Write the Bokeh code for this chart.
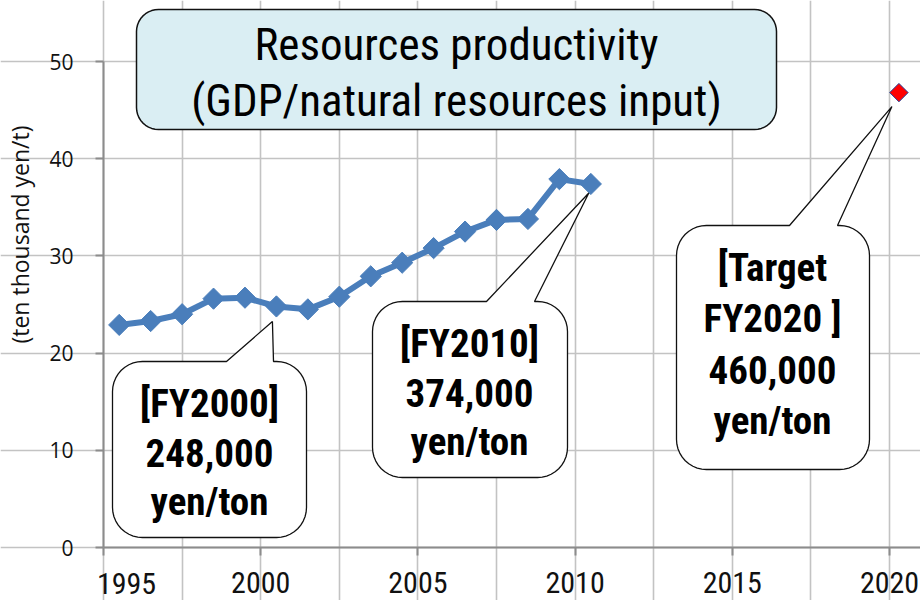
import math
from bokeh.plotting import figure
from bokeh.models import Range1d, FixedTicker, Label
from bokeh.embed import file_html
from bokeh.resources import INLINE
from bokeh.core.properties import value

# ---------------- data ----------------
years = list(range(1995, 2011))
productivity = [22.9, 23.3, 24.0, 25.6, 25.7, 24.8, 24.5, 25.8,
                27.9, 29.3, 30.8, 32.5, 33.7, 33.8, 37.9, 37.4]
target_year = 2020
target_value = 46.8
x_tick_years = [1995, 2000, 2005, 2010, 2015, 2020]
y_ticks = [0, 10, 20, 30, 40, 50]
title_lines = ["Resources productivity", "(GDP/natural resources input)"]
callout_2000 = ["[FY2000]", "248,000", "yen/ton"]
callout_2010 = ["[FY2010]", "374,000", "yen/ton"]
callout_2020 = ["[Target", "FY2020 ]", "460,000", "yen/ton"]
y_label_text = "(ten thousand yen/t)"

# ---------------- layout ----------------
ORIGIN = 1                   # where the figure lands in the screenshot
W, H = 920, 600
FL, FB = 104 - ORIGIN, 548 - ORIGIN   # 1995 / 0 axis lines in figure px
SX, SY = 31.44, 9.72         # px per year, px per unit
X0 = 1995
POINT_SHIFT = 0.5            # FY markers sit mid-year
TARGET_SHIFT = 0.3

NARROW = "Roboto Condensed"
BLUE = "#4A7EBB"
GRID = "#C3C3C3"
AXIS = "#8C8C8C"


def dx(page_x):
    return X0 + (page_x - ORIGIN - FL) / SX


def dy(page_y):
    return (FB - (page_y - ORIGIN)) / SY


def px(xd):
    return ORIGIN + FL + (xd - X0) * SX


def py(yd):
    return ORIGIN + FB - yd * SY


def rounded_callout(x1, y1, x2, y2, r, pointer=None, n=10):
    pts = []

    def arc(cx, cy, a0, a1):
        for i in range(n + 1):
            a = math.radians(a0 + (a1 - a0) * i / n)
            pts.append((cx + r * math.cos(a), cy + r * math.sin(a)))

    arc(x1 + r, y1 + r, 180, 270)
    if pointer is not None:
        bx1, bx2, tx, ty = pointer
        pts.extend([(bx1, y1), (tx, ty), (bx2, y1)])
    arc(x2 - r, y1 + r, 270, 360)
    arc(x2 - r, y2 - r, 0, 90)
    arc(x1 + r, y2 - r, 90, 180)
    return [dx(a) for a, _ in pts], [dy(b) for _, b in pts]


x_start = X0 - FL / SX
x_end = X0 + (W - FL) / SX
y_start = -(H - FB) / SY
y_end = FB / SY

p = figure(width=W, height=H, output_backend="svg", toolbar_location=None,
           x_range=Range1d(x_start, x_end), y_range=Range1d(y_start, y_end),
           min_border=0, min_border_left=0, min_border_right=0,
           min_border_top=0, min_border_bottom=0)
p.outline_line_color = None
p.background_fill_color = "white"
p.border_fill_color = "white"

# grids
p.xgrid.ticker = FixedTicker(ticks=[X0 + 2.5 * i for i in range(11)])
p.xgrid.bounds = (0, 50)
p.ygrid.ticker = FixedTicker(ticks=y_ticks)
p.ygrid.bounds = (X0, x_end)
for g in (p.xgrid, p.ygrid):
    g.grid_line_color = GRID
    g.grid_line_width = 1.6

# axes (pinned at 1995 / 0 so the frame can hold the annotations)
p.xaxis.ticker = FixedTicker(ticks=x_tick_years)
p.xaxis.fixed_location = 0
p.xaxis.bounds = (X0, x_end)
p.xaxis.major_label_overrides = {1995: ""}
p.yaxis.ticker = FixedTicker(ticks=y_ticks)
p.yaxis.fixed_location = X0
p.yaxis.bounds = (0, 50)
for ax in (p.xaxis, p.yaxis):
    ax.axis_line_color = AXIS
    ax.axis_line_width = 2
    ax.major_tick_line_color = AXIS
    ax.major_tick_line_width = 2
    ax.major_tick_out = 8
    ax.major_tick_in = 0
    ax.minor_tick_line_color = None
    ax.major_label_text_color = "#111111"
p.xaxis.major_label_text_font = NARROW
p.xaxis.major_label_text_font_size = "30px"
p.xaxis.major_label_standoff = 16
p.yaxis.major_label_text_font = "Open Sans"
p.yaxis.major_label_text_font_size = "21px"
p.yaxis.major_label_standoff = 22

# first year label sits nudged to the right, as in the original
p.text(x=[dx(127)], y=[dy(584)], text=[str(x_tick_years[0])],
       text_font=value(NARROW), text_font_size="30px", text_align="center",
       text_baseline="middle", text_color="#111111")

# series
xs = [y + POINT_SHIFT for y in years]
p.line(xs, productivity, line_color=BLUE, line_width=6)
p.scatter(xs, productivity, marker="square", angle=math.pi / 4, size=15,
          fill_color=BLUE, line_color=BLUE)
tx_ = target_year + TARGET_SHIFT
p.scatter([tx_], [target_value], marker="square", angle=math.pi / 4, size=13,
          fill_color="#FF0000", line_color="#1F3A93", line_width=1)

# title box
bx, by = rounded_callout(137, 10, 777, 130, 22)
p.patch(bx, by, fill_color="#DAEEF3", line_color="#111111", line_width=1.5)
p.text(x=[dx(457)] * 2, y=[dy(45), dy(101)], text=title_lines,
       text_font=value(NARROW), text_font_size="45px", text_align="center",
       text_baseline="middle", text_color="#000000")

# callouts
i2000 = years.index(2000)
i2010 = years.index(2010)
tip2000 = (px(xs[i2000]) - 4, py(productivity[i2000]) + 15)
tip2010 = (px(xs[i2010]) - 2, py(productivity[i2010]) + 9)
tip2020 = (px(tx_) - 7, py(target_value) + 14)

boxes = [
    ((113, 362, 307, 538), (227, 274) + tip2000, callout_2000, 210, 404, 49),
    ((373, 302, 568, 478), (487, 535) + tip2010, callout_2010, 470, 344, 49),
    ((677, 226, 870, 470), (790, 838) + tip2020, callout_2020, 773, 268, 51),
]
for (x1, y1, x2, y2), ptr, lines, cx, cy0, step in boxes:
    cxs, cys = rounded_callout(x1, y1, x2, y2, 30, pointer=ptr)
    p.patch(cxs, cys, fill_color="white", line_color="#111111", line_width=1.3)
    p.text(x=[dx(cx)] * len(lines), y=[dy(cy0 + step * k) for k in range(len(lines))],
           text=lines, text_font=value(NARROW), text_font_size="39px",
           text_font_style="bold", text_align="center", text_baseline="middle",
           text_color="#000000")

# y-axis title
p.add_layout(Label(x=dx(20), y=dy(235), text=y_label_text, angle=math.pi / 2,
                   text_font="Open Sans", text_font_size="23px",
                   text_align="center", text_baseline="middle",
                   text_color="#111111"))

open("out.html", "w").write(file_html(p, INLINE))
